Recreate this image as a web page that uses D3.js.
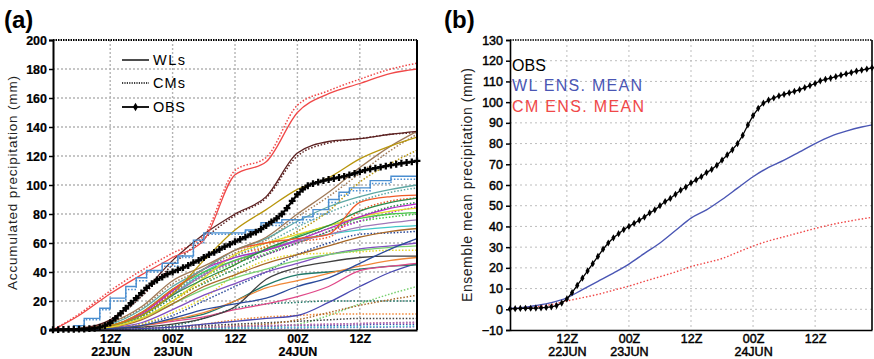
<!DOCTYPE html>
<html>
<head>
<meta charset="utf-8">
<script src="https://cdn.jsdelivr.net/npm/d3@7"></script>
<style>
  body { margin: 0; background: #fff; }
  svg { display: block; }
</style>
</head>
<body>
<svg id="chart" width="874" height="359"></svg>
<script>
// hours since 00Z 22JUN
const HOURS = [1, 6, 12, 18, 24, 30, 36, 42, 48, 54, 60, 66, 71];
const TICK_HOURS = [12, 24, 36, 48, 60];
const TICK_TIME = ['12Z', '00Z', '12Z', '00Z', '12Z'];
const TICK_DATE = ['22JUN', '23JUN', '', '24JUN', ''];

const MEMBER_COLORS = ['#f04848', '#5c2222', '#b8960c', '#a07a58', '#5ea8a4', '#f05a28', '#2a8a48',
  '#b428c8', '#e6d82a', '#48c848', '#a078b8', '#40c8c8', '#a86828', '#2a4a9a', '#404040',
  '#f08838', '#e04888', '#207868', '#4848b0', '#78d070', '#8050c0'];

// WL members (solid)
const WL_RUNS = [
  [0, 10, 25, 38, 50, 62, 107, 116, 150, 163, 170, 177, 180],
  [0, 1, 7, 25, 48, 66, 80, 92, 122, 130, 132, 135, 137],
  [0, 1, 3, 10, 25, 48, 69, 83, 97, 105, 118, 127, 133],
  [0, 1, 5, 16, 34, 44, 55, 64, 80, 95, 112, 127, 137],
  [0, 1, 4, 14, 30, 42, 55, 63, 75, 85, 92, 97, 100],
  [0, 1, 3, 12, 28, 42, 55, 60, 63, 66, 88, 92, 93],
  [0, 1, 3, 10, 24, 35, 45, 56, 64, 72, 82, 88, 91],
  [0, 1, 3, 11, 27, 42, 50, 55, 62, 70, 78, 84, 87],
  [0, 0.5, 2, 8, 20, 36, 52, 60, 66, 72, 78, 82, 84],
  [0, 1, 3, 12, 28, 40, 48, 55, 65, 72, 77, 80, 81],
  [0, 1, 3, 10, 24, 38, 48, 55, 61, 66, 71, 74, 76],
  [0, 1, 3, 10, 24, 40, 50, 55, 62, 66, 69, 71, 72],
  [0, 1, 2, 7, 18, 30, 38, 46, 52, 58, 64, 68, 70],
  [0, 0.3, 1, 3, 8, 14, 18, 22, 30, 36, 46, 56, 63],
  [0, 0.3, 1, 2, 4, 8, 16, 35, 43, 47, 50, 51, 51],
  [0, 0.5, 1, 3, 7, 12, 20, 29, 34, 39, 44, 48, 50],
  [0, 0.3, 1, 3, 6, 9, 14, 18, 23, 30, 41, 44, 46],
  [0, 0.3, 1, 3, 7, 11, 20, 31, 38, 40, 42, 44, 45],
  [0, 0.2, 0.5, 1, 2, 4, 6, 8, 10, 19, 30, 40, 46],
  [0, 0.5, 2, 8, 18, 28, 36, 42, 48, 52, 55, 57, 58],
  [0, 0.5, 1.5, 5, 14, 24, 32, 40, 46, 52, 56, 58, 60]
];

// CM members (dotted)
const CM_RUNS = [
  [0, 11, 27, 41, 53, 65, 110, 119, 155, 165, 173, 180, 184],
  [0, 1, 6, 23, 45, 63, 79, 91, 120, 129, 132, 135, 136],
  [0, 0.5, 2, 8, 20, 33, 45, 58, 68, 82, 102, 115, 124],
  [0, 1, 5, 15, 32, 42, 53, 62, 78, 92, 108, 124, 135],
  [0, 1, 3, 12, 27, 39, 51, 60, 71, 81, 89, 95, 98],
  [0, 1, 3, 11, 26, 39, 51, 57, 61, 64, 82, 89, 91],
  [0, 1, 2, 9, 22, 32, 42, 52, 60, 68, 78, 85, 88],
  [0, 1, 3, 10, 25, 38, 47, 52, 60, 68, 75, 81, 85],
  [0, 0.3, 1, 4, 12, 22, 38, 48, 52, 53, 54, 55, 55],
  [0, 1, 2, 10, 25, 37, 46, 53, 62, 70, 75, 78, 80],
  [0, 0, 0.5, 1, 1.5, 2, 2.5, 3, 3.5, 4, 4.5, 5, 5.5],
  [0, 0, 0.3, 0.5, 0.8, 1, 1.2, 1.5, 1.8, 2, 2.2, 2.5, 2.8],
  [0, 0.2, 0.5, 1, 1.5, 2, 3, 4, 7, 12, 17, 21, 24],
  [0, 0.3, 1, 4, 10, 20, 30, 40, 52, 60, 66, 67, 68],
  [0, 0, 0.5, 1, 2, 3, 4, 5, 6, 7, 8, 8, 8],
  [0, 0.3, 0.5, 1, 2, 4, 7, 9, 10, 11, 11, 11, 11],
  [0, 0, 0.5, 1, 1.5, 2, 2.5, 3, 3.5, 4, 4.5, 5, 5],
  [0, 0.3, 0.5, 1, 3, 8, 15, 18, 19, 20, 20, 20, 20],
  [0, 0, 0.3, 0.5, 1, 1.5, 2, 2.5, 3, 3, 3.5, 4, 4],
  [0, 0, 0.3, 0.5, 1, 1.5, 2, 2.5, 4, 10, 18, 25, 30],
  [0, 0, 0.2, 0.4, 0.6, 0.8, 1, 1.2, 1.4, 1.6, 1.8, 2, 2.2]
];

// the stepped (light blue) member
const STEP_COLOR = '#4a8ed0';
const STEP_HOURS = [1, 4, 5, 7, 10, 12, 15, 17, 19, 22, 25, 28, 30, 38, 41, 45, 49, 51, 54, 56, 58, 62, 66, 71];
const STEP_WL = [0, 0, 3, 8, 15, 22, 30, 36, 41, 46, 51, 62, 67, 69, 74, 76, 78, 83, 90, 95, 98, 103, 106, 107];
const STEP_CM = [0, 0, 2, 7, 14, 20, 28, 34, 40, 44, 50, 60, 66, 68, 72, 74, 76, 80, 88, 93, 96, 101, 104, 105];

// observations, hourly from 01Z 22JUN
const OBS_HOURS = d3.range(1, 72);
const OBS = [0.2, 0.3, 0.4, 0.5, 0.5, 0.6, 0.7, 0.9, 1.2, 1.8, 3.0, 5.0, 8.0, 11.5, 15.0, 18.5, 22.0, 25.5,
  29.0, 32.0, 34.5, 36.5, 38.5, 40.0, 41.5, 43.0, 44.5, 46.5, 48.0, 50.0, 52.0, 53.5, 55.5, 57.5, 59.0, 61.0,
  62.5, 64.0, 66.0, 67.5, 69.5, 72.0, 74.5, 77.0, 80.0, 84.0, 89.0, 93.5, 97.0, 99.5, 101.0, 102.0, 103.0,
  103.8, 104.5, 105.2, 106.0, 107.0, 108.0, 109.0, 110.3, 111.0, 111.6, 112.3, 113.0, 113.7, 114.3, 115.0,
  115.5, 116.0, 116.6];

// ensemble means (panel b)
const MEAN_HOURS = [1, 3, 6, 9, 12, 15, 18, 21, 24, 27, 30, 33, 36, 39, 42, 45, 48, 51, 54, 57, 60, 63, 66, 69, 71];
const WL_MEAN = [0.5, 0.7, 1.8, 3.2, 5.5, 9.5, 13.5, 17.5, 21.8, 27, 32, 38, 44, 48, 53, 58.5, 64, 68.5, 72, 76, 80, 83.5, 86, 88, 89];
const CM_MEAN = [0.3, 0.5, 1.2, 2.3, 4, 5.6, 7.2, 9.2, 11.2, 13.5, 15.7, 18, 20.6, 22.5, 24.5, 27.5, 30.5, 33, 35, 37, 39, 40.8, 42.3, 43.6, 44.4];

const FONT = 'Liberation Sans, Arial, sans-serif';
const svg = d3.select('#chart');

function setupPanel(x0, x1, yDomain, yTicks, opts) {
    const x = d3.scaleLinear().domain([1, 71]).range([x0, x1]);
    const y = d3.scaleLinear().domain(yDomain).range([330, 40]);
    const g = svg.append('g');

    // grid
    g.append('g').selectAll('line')
        .data(TICK_HOURS)
        .enter().append('line')
        .attr('x1', d => x(d)).attr('x2', d => x(d))
        .attr('y1', 40).attr('y2', 330)
        .attr('stroke', opts.gridColor).attr('stroke-width', opts.gridWidth)
        .attr('stroke-dasharray', opts.gridDash);
    g.append('g').selectAll('line')
        .data(yTicks.slice(1, -1))
        .enter().append('line')
        .attr('x1', x0).attr('x2', x1)
        .attr('y1', d => y(d)).attr('y2', d => y(d))
        .attr('stroke', opts.gridColor).attr('stroke-width', opts.gridWidth)
        .attr('stroke-dasharray', opts.gridDash);

    const plot = g.append('g');
    return {x, y, g, plot};
}

function finishPanel(p, x0, x1, yTicks, opts) {
    const {x, y, g} = p;
    // top frame, dotted black
    g.append('line')
        .attr('x1', x0).attr('x2', x1).attr('y1', 40).attr('y2', 40)
        .attr('stroke', '#000').attr('stroke-width', opts.frameWidth)
        .attr('stroke-dasharray', '1.5,1');
    // right frame
    g.append('line')
        .attr('x1', x1).attr('x2', x1).attr('y1', 40).attr('y2', 330)
        .attr('stroke', '#000').attr('stroke-width', opts.frameWidth);

    const yAxis = g.append('g')
        .attr('transform', `translate(${x0},0)`)
        .call(d3.axisLeft(y).tickValues(yTicks).tickSize(4).tickPadding(opts.yPad)
            .tickFormat(d => d < 0 ? '\u2212' + Math.abs(d) : d));
    yAxis.select('.domain').attr('stroke-width', opts.frameWidth);
    yAxis.selectAll('.tick line').attr('stroke-width', 1.5);
    yAxis.selectAll('text')
        .attr('font-family', FONT).attr('font-size', opts.tickSize)
        .attr('font-weight', opts.tickWeight).attr('fill', '#000')
        .attr('stroke', '#000').attr('stroke-width', opts.tickStroke);

    const xAxis = g.append('g')
        .attr('transform', 'translate(0,330)')
        .call(d3.axisBottom(x).tickValues(TICK_HOURS).tickSize(0).tickPadding(4)
            .tickFormat((d, i) => TICK_TIME[i]));
    xAxis.select('.domain').attr('stroke-width', opts.frameWidth);
    xAxis.selectAll('.tick text')
        .attr('font-family', FONT).attr('font-size', opts.tickSize)
        .attr('font-weight', opts.tickWeight).attr('fill', '#000')
        .attr('stroke', '#000').attr('stroke-width', opts.tickStroke);
    xAxis.selectAll('.tick').append('text')
        .attr('y', 17).attr('dy', '0.71em')
        .attr('text-anchor', 'middle')
        .attr('font-family', FONT).attr('font-size', opts.tickSize)
        .attr('font-weight', opts.tickWeight).attr('fill', '#000')
        .attr('stroke', '#000').attr('stroke-width', opts.tickStroke)
        .text((d, i) => TICK_DATE[i]);
}

function addObs(p, symbol, size, width) {
    const line = d3.line().x((d, i) => p.x(OBS_HOURS[i])).y(d => p.y(d));
    p.plot.append('path').datum(OBS)
        .attr('d', line).attr('fill', 'none')
        .attr('stroke', '#000').attr('stroke-width', width);
    p.plot.append('g').selectAll('path')
        .data(OBS)
        .enter().append('path')
        .attr('d', d3.symbol(symbol, size))
        .attr('transform', (d, i) => `translate(${p.x(OBS_HOURS[i])},${p.y(d)})`)
        .attr('fill', '#000');
}

// ---------------- panel (a) ----------------
const yTicksA = d3.range(0, 201, 20);
const optsA = {gridColor: '#b4b4b4', gridWidth: 1.4, gridDash: '2,2', frameWidth: 2,
    yPad: 2, tickSize: 12.5, tickWeight: 'bold', tickStroke: 0.2};
const pa = setupPanel(53, 417, [0, 200], yTicksA, optsA);

const memberLine = d3.line().x((d, i) => pa.x(HOURS[i])).y(d => pa.y(d)).curve(d3.curveMonotoneX);
const stepLine = d3.line().x((d, i) => pa.x(STEP_HOURS[i])).y(d => pa.y(d)).curve(d3.curveStepAfter);

// dotted CM runs underneath, solid WL runs on top
const order = d3.range(MEMBER_COLORS.length).reverse();
order.forEach(k => {
    pa.plot.append('path').datum(CM_RUNS[k])
        .attr('d', memberLine).attr('fill', 'none')
        .attr('stroke', MEMBER_COLORS[k]).attr('stroke-width', 1.5)
        .attr('stroke-dasharray', '1.5,1.8');
});
pa.plot.append('path').datum(STEP_CM)
    .attr('d', stepLine).attr('fill', 'none')
    .attr('stroke', STEP_COLOR).attr('stroke-width', 1.5).attr('stroke-dasharray', '1.5,1.8');
order.forEach(k => {
    pa.plot.append('path').datum(WL_RUNS[k])
        .attr('d', memberLine).attr('fill', 'none')
        .attr('stroke', MEMBER_COLORS[k]).attr('stroke-width', 1.3);
});
pa.plot.append('path').datum(STEP_WL)
    .attr('d', stepLine).attr('fill', 'none')
    .attr('stroke', STEP_COLOR).attr('stroke-width', 1.4);

addObs(pa, d3.symbolCross, 26, 2.2);
finishPanel(pa, 53, 417, yTicksA, optsA);

// legend (a)
const legA = svg.append('g');
[['WLs', 60, null], ['CMs', 83, '1.2,1.2'], ['OBS', 107, null]].forEach(([label, ly, dash], i) => {
    legA.append('line')
        .attr('x1', 122).attr('x2', 149).attr('y1', ly).attr('y2', ly)
        .attr('stroke', '#000').attr('stroke-width', i === 2 ? 1.8 : 1.4)
        .attr('stroke-dasharray', dash);
    if (i === 2) {
        legA.append('path')
            .attr('d', d3.symbol(d3.symbolDiamond, 22))
            .attr('transform', `translate(135.5,${ly})`);
    }
    legA.append('text')
        .attr('x', 153).attr('y', ly + 5)
        .attr('font-family', FONT).attr('font-size', 14.5)
        .attr('textLength', 32).attr('lengthAdjust', 'spacing')
        .text(label);
});

svg.append('text')
    .attr('transform', 'translate(17,183) rotate(-90)')
    .attr('text-anchor', 'middle')
    .attr('font-family', FONT).attr('font-size', 13.5).attr('fill', '#222')
    .attr('textLength', 214).attr('lengthAdjust', 'spacing')
    .text('Accumulated precipitation (mm)');

svg.append('text')
    .attr('x', 4).attr('y', 28)
    .attr('font-family', FONT).attr('font-size', 24).attr('font-weight', 'bold')
    .text('(a)');

// ---------------- panel (b) ----------------
const yTicksB = d3.range(-10, 131, 10);
const optsB = {gridColor: '#bdbdbd', gridWidth: 1, gridDash: '2,3', frameWidth: 1.6,
    yPad: 3, tickSize: 12.5, tickWeight: 'normal', tickStroke: 0.45};
const pb = setupPanel(510, 872, [-10, 130], yTicksB, optsB);

const meanLine = d3.line().x((d, i) => pb.x(MEAN_HOURS[i])).y(d => pb.y(d)).curve(d3.curveMonotoneX);
pb.plot.append('path').datum(CM_MEAN)
    .attr('d', meanLine).attr('fill', 'none')
    .attr('stroke', '#f04848').attr('stroke-width', 1.4).attr('stroke-dasharray', '1.5,2');
pb.plot.append('path').datum(WL_MEAN)
    .attr('d', meanLine).attr('fill', 'none')
    .attr('stroke', '#4a56b4').attr('stroke-width', 1.4);
addObs(pb, d3.symbolDiamond, 15, 1.3);
finishPanel(pb, 510, 872, yTicksB, optsB);

// legend (b)
[['OBS', 71, '#000', 34], ['WL ENS. MEAN', 91, '#4a56b4', 130], ['CM ENS. MEAN', 112, '#f04848', 132]]
    .forEach(([label, ly, color, len]) => {
        svg.append('text')
            .attr('x', 512).attr('y', ly)
            .attr('font-family', FONT).attr('font-size', 16).attr('fill', color)
            .attr('textLength', len).attr('lengthAdjust', 'spacing')
            .text(label);
    });

svg.append('text')
    .attr('transform', 'translate(472,185) rotate(-90)')
    .attr('text-anchor', 'middle')
    .attr('font-family', FONT).attr('font-size', 14).attr('fill', '#222')
    .attr('textLength', 234).attr('lengthAdjust', 'spacing')
    .text('Ensemble mean precipitation (mm)');

svg.append('text')
    .attr('x', 444).attr('y', 28)
    .attr('font-family', FONT).attr('font-size', 24).attr('font-weight', 'bold')
    .text('(b)');
</script>
</body>
</html>
